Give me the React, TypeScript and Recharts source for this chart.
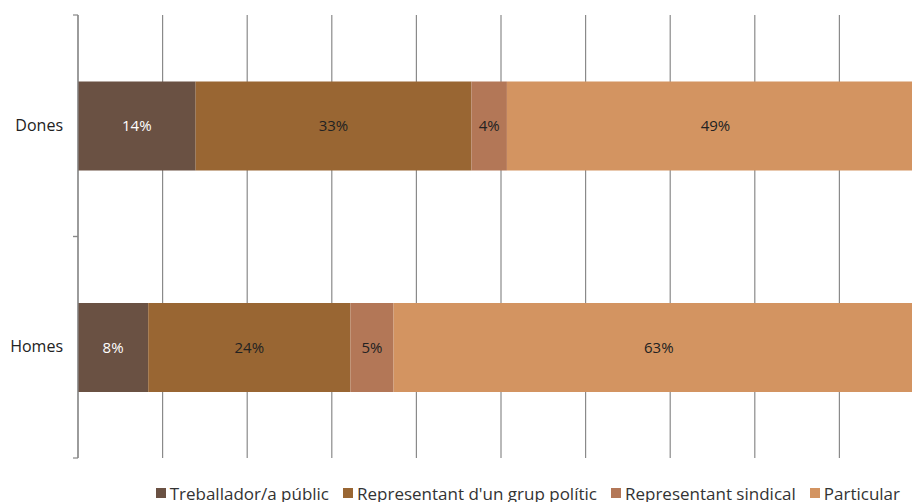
import React from 'react';
import { BarChart, Bar, XAxis, YAxis, CartesianGrid, Legend, LabelList } from 'recharts';

const categories = ['Dones', 'Homes'];
const treballador = [13.9, 8.3];
const representantPolitic = [32.6, 23.9];
const representantSindical = [4.2, 5.1];
const particular = [49.3, 62.7];
const xTicks = [0, 10, 20, 30, 40, 50, 60, 70, 80, 90, 100];

const seriesDefs = [
  { key: 'treballador', name: 'Treballador/a públic', color: '#6A5143', label: '#FFFFFF', values: treballador },
  { key: 'politic', name: "Representant d'un grup polític", color: '#996633', label: '#222222', values: representantPolitic },
  { key: 'sindical', name: 'Representant sindical', color: '#B37757', label: '#222222', values: representantSindical },
  { key: 'particular', name: 'Particular', color: '#D39461', label: '#222222', values: particular },
];

const data = categories.map((c, i) => {
  const row: any = { name: c };
  seriesDefs.forEach((s) => {
    row[s.key] = s.values[i];
  });
  return row;
});

const FONT = "'Open Sans', sans-serif";
const TICK_MARGIN = 15;

const CategoryTick = (props: any) => {
  const { x, y, payload } = props;
  const half = payload.offset || 0;
  const axisX = x + TICK_MARGIN;
  return (
    <g>
      <text x={x} y={y} dy={5} textAnchor="end" fontSize={16} fill="#222" fontFamily={FONT}>
        {payload.value}
      </text>
      <line x1={axisX - 5} x2={axisX} y1={y - half} y2={y - half} stroke="#888" strokeWidth={1.2} />
      <line x1={axisX - 5} x2={axisX} y1={y + half} y2={y + half} stroke="#888" strokeWidth={1.2} />
    </g>
  );
};

const LegendContent = () => (
  <div
    style={{
      display: 'flex',
      justifyContent: 'flex-end',
      paddingRight: 24,
      height: 24,
      alignItems: 'center',
      fontFamily: FONT,
      fontSize: 17,
      color: '#333',
      whiteSpace: 'nowrap',
    }}
  >
    {seriesDefs.map((s) => (
      <div key={s.key} style={{ display: 'flex', alignItems: 'center', marginLeft: 14 }}>
        <span style={{ width: 10, height: 10, background: s.color, display: 'inline-block', marginRight: 4 }} />
        <span>{s.name}</span>
      </div>
    ))}
  </div>
);

export default function App() {
  return (
    <div style={{ position: 'absolute', left: 0, top: 0, width: 912, height: 502, overflow: 'hidden' }}>
      <BarChart
        width={940}
        height={502}
        data={data}
        layout="vertical"
        margin={{ top: 15, right: 16, left: 0, bottom: 20 }}
        barCategoryGap="30%"
      >
        <CartesianGrid horizontal={false} vertical={true} stroke="#8a8a8a" strokeWidth={1.2} />
        <XAxis type="number" domain={[0, 100]} ticks={xTicks} hide />
        <YAxis
          type="category"
          dataKey="name"
          width={78}
          axisLine={{ stroke: '#888', strokeWidth: 1.2 }}
          tickLine={false}
          tickSize={0}
          tickMargin={TICK_MARGIN}
          tick={<CategoryTick />}
          interval={0}
        />
        <Legend verticalAlign="bottom" content={<LegendContent />} wrapperStyle={{ bottom: -3 }} />
        {seriesDefs.map((s) => (
          <Bar key={s.key} dataKey={s.key} name={s.name} stackId="a" fill={s.color} isAnimationActive={false}>
            <LabelList
              dataKey={s.key}
              position="center"
              formatter={(v: any) => `${Math.round(Number(v))}%`}
              fill={s.label}
              fontSize={15}
              fontFamily={FONT}
            />
          </Bar>
        ))}
      </BarChart>
    </div>
  );
}
